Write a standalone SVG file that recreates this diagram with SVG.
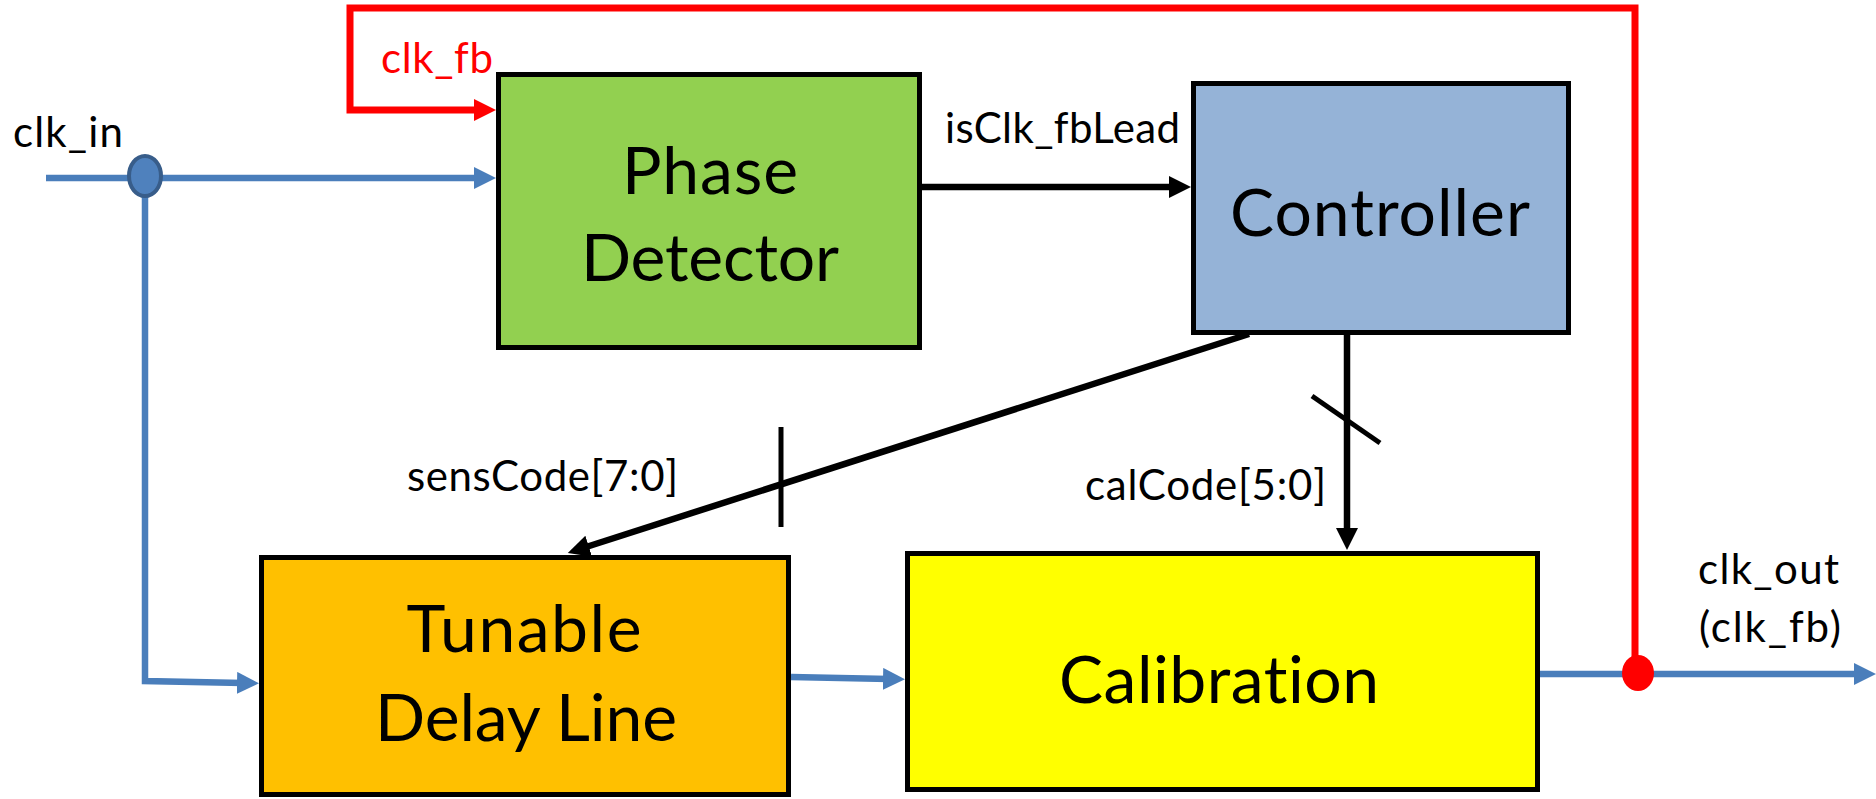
<svg xmlns="http://www.w3.org/2000/svg" width="1876" height="799" viewBox="0 0 1876 799">
  <style>
    text { font-variant-ligatures: none; font-feature-settings: "liga" 0; }
    .box { stroke: #000; stroke-width: 5; }
    .big { font-family: Lato, "Liberation Sans", sans-serif; font-size: 66px; fill: #000; text-anchor: middle; }
    .lbl { font-family: Lato, "Liberation Sans", sans-serif; font-size: 42px; fill: #000; }
    .blue { fill: none; stroke: #4a7ebb; stroke-width: 6.5; }
    .black { fill: none; stroke: #000; stroke-width: 6.5; }
    .red { fill: none; stroke: #ff0000; stroke-width: 7; }
    .tick { fill: none; stroke: #000; stroke-width: 5; }
  </style>
  <defs>
    <marker id="arrBlue" markerUnits="userSpaceOnUse" markerWidth="24" markerHeight="24" refX="6" refY="11" orient="auto">
      <path d="M0,0 L22,11 L0,22 Z" fill="#4a7ebb"/>
    </marker>
    <marker id="arrBlack" markerUnits="userSpaceOnUse" markerWidth="24" markerHeight="24" refX="6" refY="11" orient="auto">
      <path d="M0,0 L22,11 L0,22 Z" fill="#000"/>
    </marker>
    <marker id="arrRed" markerUnits="userSpaceOnUse" markerWidth="24" markerHeight="24" refX="6" refY="11" orient="auto">
      <path d="M0,0 L22,11 L0,22 Z" fill="#ff0000"/>
    </marker>
  </defs>

  <rect width="1876" height="799" fill="#fff"/>

  <!-- blocks -->
  <g id="phase-detector">
    <rect class="box" x="498.5" y="74.5" width="421" height="273" fill="#92d050"/>
    <text class="big" x="710" y="194" textLength="176">Phase</text>
    <text class="big" x="710" y="281" textLength="258">Detector</text>
  </g>
  <g id="controller">
    <rect class="box" x="1193.5" y="83.5" width="375" height="249" fill="#95b3d7"/>
    <text class="big" x="1380" y="236" textLength="300">Controller</text>
  </g>
  <g id="tunable-delay-line">
    <rect class="box" x="261.5" y="557.5" width="527" height="237" fill="#ffc000"/>
    <text class="big" x="524" y="652" textLength="235">Tunable</text>
    <text class="big" x="526" y="741" textLength="302">Delay Line</text>
  </g>
  <g id="calibration">
    <rect class="box" x="907.5" y="553.5" width="630" height="236" fill="#ffff00"/>
    <text class="big" x="1219" y="703" textLength="320">Calibration</text>
  </g>

  <!-- signal wiring -->
  <g id="connectors">
    <!-- clk_in into phase detector and down to the delay line -->
    <line class="blue" x1="46" y1="178" x2="480" y2="178" marker-end="url(#arrBlue)"/>
    <polyline class="blue" points="145,178 145,681 243,683" marker-end="url(#arrBlue)"/>
    <ellipse cx="145" cy="176" rx="16" ry="20" fill="#4f81bd" stroke="#385d8a" stroke-width="4"/>

    <!-- delay line to calibration, calibration to output -->
    <line class="blue" x1="791" y1="677" x2="889" y2="679" marker-end="url(#arrBlue)"/>
    <line class="blue" x1="1540" y1="674" x2="1860" y2="674" marker-end="url(#arrBlue)"/>

    <!-- feedback clock -->
    <polyline class="red" points="1635,673 1635,8 350,8 350,110 480,110" marker-end="url(#arrRed)"/>
    <ellipse cx="1638" cy="673" rx="16" ry="18" fill="#ff0000"/>

    <!-- phase detector result -->
    <line class="black" x1="922" y1="187" x2="1175" y2="187" marker-end="url(#arrBlack)"/>

    <!-- sensCode bus -->
    <line class="black" x1="1249" y1="334" x2="583" y2="548" marker-end="url(#arrBlack)"/>
    <line class="tick" x1="781" y1="427" x2="781" y2="527"/>

    <!-- calCode bus -->
    <line class="black" x1="1347" y1="335" x2="1347" y2="534" marker-end="url(#arrBlack)"/>
    <line class="tick" x1="1312" y1="396" x2="1380" y2="443"/>
  </g>

  <!-- signal names -->
  <g id="labels">
    <text class="lbl" x="381" y="73" style="fill:#ff0000" textLength="112">clk_fb</text>
    <text class="lbl" x="13" y="147" textLength="110">clk_in</text>
    <text class="lbl" x="945" y="143" textLength="235">isClk_fbLead</text>
    <text class="lbl" x="407" y="491" textLength="271">sensCode[7:0]</text>
    <text class="lbl" x="1085" y="500" textLength="241">calCode[5:0]</text>
    <text class="lbl" x="1698" y="584" textLength="141">clk_out</text>
    <text class="lbl" x="1699" y="642" textLength="142">(clk_fb)</text>
  </g>
</svg>
